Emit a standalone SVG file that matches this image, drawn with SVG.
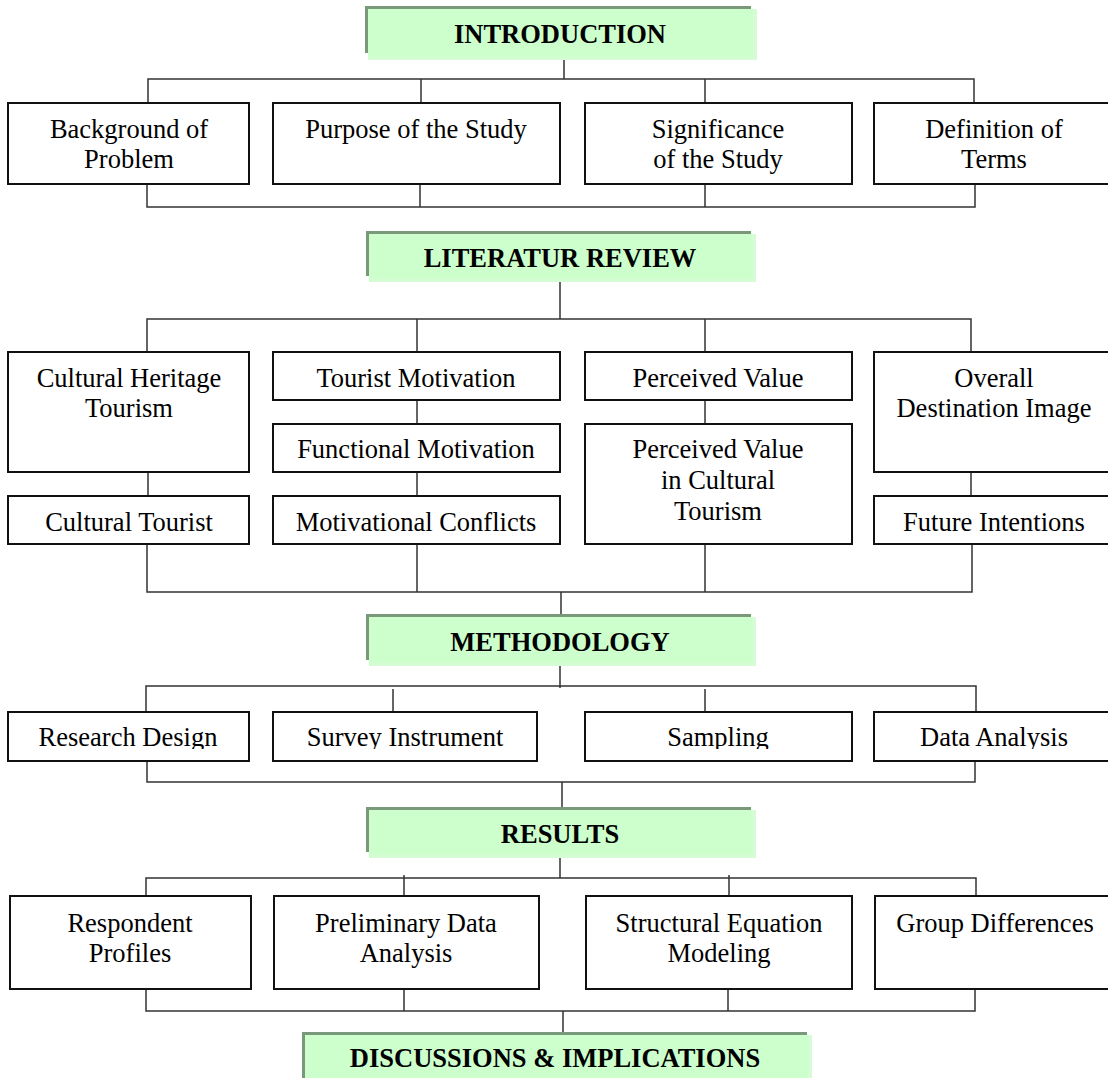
<svg xmlns="http://www.w3.org/2000/svg" width="1108" height="1078" viewBox="0 0 1108 1078">
  <style>
    .box { fill: #ffffff; stroke: #111111; stroke-width: 2; }
    .lbl { font-family: "Liberation Serif", "Times New Roman", serif; font-size: 26.5px; fill: #000000; text-anchor: middle; }
    .hd-lbl { font-family: "Liberation Serif", "Times New Roman", serif; font-size: 26.5px; font-weight: bold; fill: #000000; text-anchor: middle; }
    .hd-shadow { fill: #7a987a; }
    .hd-fill { fill: #ccffcc; }
    .hd-edge { fill: #d6fcd6; }
    .wire { fill: none; stroke: #333333; stroke-width: 1.5; }
  </style>
  <defs>
    <clipPath id="row3clip">
      <rect x="0" y="700" width="1108" height="49"/>
    </clipPath>
  </defs>
  <rect width="1108" height="1078" fill="#ffffff"/>

  <!-- connectors -->
  <g id="connectors" class="wire">
    <!-- introduction tree -->
    <path d="M564 58 V79 M148 103 V79 H974 V103 M421 79 V103 M705 79 V103"/>
    <path d="M147 184 V207 H975 V184 M420 184 V207 M705 184 V207"/>
    <!-- literature review tree -->
    <path d="M560 282 V319 M147 352 V319 H971 V352 M417 319 V352 M705 319 V352"/>
    <path d="M148 472 V496 M417 400 V424 M417 472 V496 M705 400 V424 M971 472 V496"/>
    <path d="M147 544 V592 H972 V544 M417 544 V592 M705 544 V592 M561 592 V614"/>
    <!-- methodology tree -->
    <path d="M560 666 V688 M146 712 V686 H976 V712 M393 689 V712 M705 689 V712"/>
    <path d="M147 761 V782 H975 V761 M562 782 V807"/>
    <!-- results tree -->
    <path d="M560 858 V878 M146 896 V878 H976 V896 M404 875 V898 M729 875 V898"/>
    <path d="M146 989 V1011 H975 V989 M404 987 V1011 M728 989 V1011 M563 1011 V1032"/>
  </g>

  <!-- section headers -->
  <g id="hdr-introduction">
    <rect class="hd-shadow" x="365" y="6" width="386" height="47"/>
    <rect class="hd-edge" x="368" y="9" width="389" height="51"/>
    <rect class="hd-fill" x="368" y="9" width="385" height="48"/>
    <text class="hd-lbl" x="560" y="43">INTRODUCTION</text>
  </g>
  <g id="hdr-literature">
    <rect class="hd-shadow" x="366" y="231" width="385" height="45"/>
    <rect class="hd-edge" x="369" y="234" width="387" height="48"/>
    <rect class="hd-fill" x="369" y="234" width="383" height="45"/>
    <text class="hd-lbl" x="560" y="267">LITERATUR REVIEW</text>
  </g>
  <g id="hdr-methodology">
    <rect class="hd-shadow" x="366" y="614" width="385" height="46"/>
    <rect class="hd-edge" x="369" y="617" width="387" height="49"/>
    <rect class="hd-fill" x="369" y="617" width="383" height="46"/>
    <text class="hd-lbl" x="560" y="651">METHODOLOGY</text>
  </g>
  <g id="hdr-results">
    <rect class="hd-shadow" x="366" y="807" width="385" height="45"/>
    <rect class="hd-edge" x="369" y="810" width="387" height="48"/>
    <rect class="hd-fill" x="369" y="810" width="383" height="45"/>
    <text class="hd-lbl" x="560" y="843">RESULTS</text>
  </g>
  <g id="hdr-discussions">
    <rect class="hd-shadow" x="302" y="1032" width="505" height="50"/>
    <rect class="hd-edge" x="305" y="1035" width="507" height="50"/>
    <rect class="hd-fill" x="305" y="1035" width="503" height="50"/>
    <text class="hd-lbl" x="555" y="1067">DISCUSSIONS &amp; IMPLICATIONS</text>
  </g>

  <!-- introduction topics -->
  <g id="background">
    <rect class="box" x="8" y="103" width="241" height="81"/>
    <text class="lbl" x="129" y="138">Background of</text>
    <text class="lbl" x="129" y="168">Problem</text>
  </g>
  <g id="purpose">
    <rect class="box" x="273" y="103" width="287" height="81"/>
    <text class="lbl" x="416" y="138">Purpose of the Study</text>
  </g>
  <g id="significance">
    <rect class="box" x="585" y="103" width="267" height="81"/>
    <text class="lbl" x="718" y="138">Significance</text>
    <text class="lbl" x="718" y="168">of the Study</text>
  </g>
  <g id="definition">
    <rect class="box" x="874" y="103" width="240" height="81"/>
    <text class="lbl" x="994" y="138">Definition of</text>
    <text class="lbl" x="994" y="168">Terms</text>
  </g>

  <!-- literature review topics -->
  <g id="heritage-tourism">
    <rect class="box" x="8" y="352" width="241" height="120"/>
    <text class="lbl" x="129" y="387">Cultural Heritage</text>
    <text class="lbl" x="129" y="417">Tourism</text>
  </g>
  <g id="cultural-tourist">
    <rect class="box" x="8" y="496" width="241" height="48"/>
    <text class="lbl" x="129" y="531">Cultural Tourist</text>
  </g>
  <g id="tourist-motivation">
    <rect class="box" x="273" y="352" width="287" height="48"/>
    <text class="lbl" x="416" y="387">Tourist Motivation</text>
  </g>
  <g id="functional-motivation">
    <rect class="box" x="273" y="424" width="287" height="48"/>
    <text class="lbl" x="416" y="458">Functional Motivation</text>
  </g>
  <g id="motivational-conflicts">
    <rect class="box" x="273" y="496" width="287" height="48"/>
    <text class="lbl" x="416" y="531">Motivational Conflicts</text>
  </g>
  <g id="perceived-value">
    <rect class="box" x="585" y="352" width="267" height="48"/>
    <text class="lbl" x="718" y="387">Perceived Value</text>
  </g>
  <g id="value-cultural">
    <rect class="box" x="585" y="424" width="267" height="120"/>
    <text class="lbl" x="718" y="458">Perceived Value</text>
    <text class="lbl" x="718" y="489">in Cultural</text>
    <text class="lbl" x="718" y="520">Tourism</text>
  </g>
  <g id="destination-image">
    <rect class="box" x="874" y="352" width="240" height="120"/>
    <text class="lbl" x="994" y="387">Overall</text>
    <text class="lbl" x="994" y="417">Destination Image</text>
  </g>
  <g id="future-intentions">
    <rect class="box" x="874" y="496" width="240" height="48"/>
    <text class="lbl" x="994" y="531">Future Intentions</text>
  </g>

  <!-- methodology topics -->
  <g id="research-design">
    <rect class="box" x="8" y="712" width="241" height="49"/>
    <text class="lbl" x="128" y="746" clip-path="url(#row3clip)">Research Design</text>
  </g>
  <g id="survey-instrument">
    <rect class="box" x="273" y="712" width="264" height="49"/>
    <text class="lbl" x="405" y="746" clip-path="url(#row3clip)">Survey Instrument</text>
  </g>
  <g id="sampling">
    <rect class="box" x="585" y="712" width="267" height="49"/>
    <text class="lbl" x="718" y="746" clip-path="url(#row3clip)">Sampling</text>
  </g>
  <g id="data-analysis">
    <rect class="box" x="874" y="712" width="240" height="49"/>
    <text class="lbl" x="994" y="746" clip-path="url(#row3clip)">Data Analysis</text>
  </g>

  <!-- results topics -->
  <g id="respondent-profiles">
    <rect class="box" x="10" y="896" width="241" height="93"/>
    <text class="lbl" x="130" y="932">Respondent</text>
    <text class="lbl" x="130" y="962">Profiles</text>
  </g>
  <g id="preliminary-analysis">
    <rect class="box" x="274" y="896" width="265" height="93"/>
    <text class="lbl" x="406" y="932">Preliminary Data</text>
    <text class="lbl" x="406" y="962">Analysis</text>
  </g>
  <g id="sem">
    <rect class="box" x="586" y="896" width="266" height="93"/>
    <text class="lbl" x="719" y="932">Structural Equation</text>
    <text class="lbl" x="719" y="962">Modeling</text>
  </g>
  <g id="group-differences">
    <rect class="box" x="875" y="896" width="240" height="93"/>
    <text class="lbl" x="995" y="932">Group Differences</text>
  </g>
</svg>
